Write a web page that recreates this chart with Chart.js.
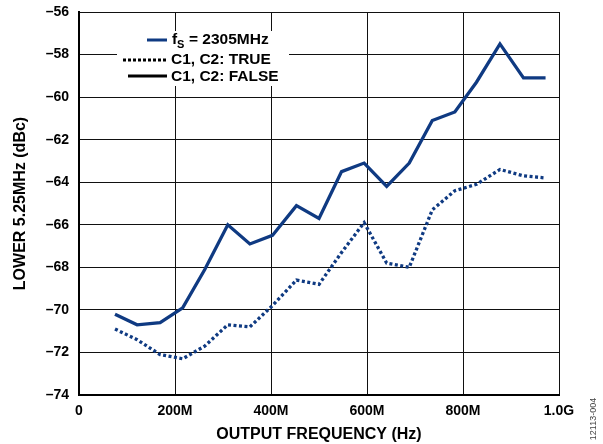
<!DOCTYPE html>
<html>
<head>
<meta charset="utf-8">
<script src="https://cdn.jsdelivr.net/npm/chart.js@4.4.1/dist/chart.umd.min.js"></script>
<style>
    body { margin: 0; background: #fff; }
    #wrap { width: 603px; height: 444px; }
</style>
</head>
<body>
<div id="wrap"><canvas id="distChart" width="603" height="444"></canvas></div>
<script>
// data srt
const freqMHz = [75, 121, 169, 216, 262, 310, 356, 403, 453, 500, 547, 594, 641, 688, 736, 783, 828, 877, 926, 972];
const falseValues = [-70.2, -70.7, -70.6, -69.9, -68.1, -66.0, -66.9, -66.5, -65.1, -65.7, -63.5, -63.1, -64.2, -63.1, -61.1, -60.7, -59.3, -57.5, -59.1, -59.1];
const trueValues = [-70.9, -71.4, -72.1, -72.3, -71.7, -70.7, -70.8, -69.8, -68.6, -68.8, -67.3, -65.9, -67.8, -68.0, -65.3, -64.4, -64.1, -63.4, -63.7, -63.8];
const xTickLabels = ['0', '200M', '400M', '600M', '800M', '1.0G'];
const legendLabels = ['2305MHz', 'C1, C2: TRUE', 'C1, C2: FALSE'];
// data end

const navy = '#0f3a82';
const family = '"Liberation Sans", Arial, sans-serif';
const legendFont = 'bold 15.5px ' + family;

// legend + figure id drawn on top
const legendPlugin = {
    id: 'legendBox',
    afterDraw(chart) {
        const c = chart.ctx;
        c.save();
        c.fillStyle = '#fff';
        c.fillRect(117, 31, 172, 55);

        c.lineWidth = 3;
        // fs entry
        c.strokeStyle = navy;
        c.beginPath(); c.moveTo(147, 40); c.lineTo(167, 40); c.stroke();
        // TRUE entry
        c.strokeStyle = '#000';
        c.setLineDash([3, 2]);
        c.beginPath(); c.moveTo(123, 60); c.lineTo(167, 60); c.stroke();
        c.setLineDash([]);
        // FALSE entry
        c.beginPath(); c.moveTo(128, 76); c.lineTo(167, 76); c.stroke();

        c.fillStyle = '#000';
        c.textBaseline = 'middle';
        c.font = legendFont;
        c.fillText('f', 172, 40);
        c.font = 'bold 11px ' + family;
        c.fillText('S', 177, 45);
        c.font = legendFont;
        c.fillText('= ' + legendLabels[0], 189, 40);
        c.fillText(legendLabels[1], 171, 60);
        c.fillText(legendLabels[2], 171, 77);

        // figure number
        c.translate(594, 419);
        c.rotate(-Math.PI / 2);
        c.textAlign = 'center';
        c.fillStyle = '#444';
        c.font = '9px ' + family;
        c.fillText('12113-004', 0, 0);
        c.restore();
    }
};

const config = {
    type: 'line',
    data: {
        labels: freqMHz,
        datasets: [
            {
                label: 'C1, C2: FALSE',
                data: freqMHz.map((f, i) => ({ x: f, y: falseValues[i] })),
                borderColor: navy,
                borderWidth: 3.3,
                pointRadius: 0,
                tension: 0,
            },
            {
                label: 'C1, C2: TRUE',
                data: freqMHz.map((f, i) => ({ x: f, y: trueValues[i] })),
                borderColor: navy,
                borderWidth: 3.3,
                borderDash: [3, 2.5],
                pointRadius: 0,
                tension: 0,
            },
        ],
    },
    options: {
        responsive: false,
        animation: false,
        layout: { padding: { top: 12, right: 44, left: 0, bottom: 0 } },
        plugins: {
            legend: { display: false },
            tooltip: { enabled: false },
        },
        scales: {
            x: {
                type: 'linear',
                min: 0,
                max: 1000,
                afterFit: (s) => { s.height = 49; },
                afterBuildTicks: (s) => { s.ticks = [0, 200, 400, 600, 800, 1000].map(v => ({ value: v })); },
                ticks: {
                    color: '#000',
                    font: { family: family, size: 14, weight: 'bold' },
                    padding: 8,
                    maxRotation: 0,
                    callback: (v, i) => xTickLabels[i],
                },
                grid: { color: '#111', lineWidth: 1, drawTicks: false },
                border: { color: '#000', width: 2 },
                title: {
                    display: true,
                    text: 'OUTPUT FREQUENCY (Hz)',
                    color: '#000',
                    font: { family: family, size: 16, weight: 'bold' },
                    padding: { top: 0, bottom: 0 },
                },
            },
            y: {
                min: -74,
                max: -56,
                afterFit: (s) => { s.width = 79; s.paddingTop = 0; s.paddingBottom = 0; },
                ticks: {
                    stepSize: 2,
                    color: '#000',
                    font: { family: family, size: 14, weight: 'bold' },
                    padding: 10,
                    callback: (v) => '\u2013' + Math.abs(v),
                },
                grid: { color: '#111', lineWidth: 1, drawTicks: false },
                border: { color: '#000', width: 2 },
                title: {
                    display: true,
                    text: 'LOWER 5.25MHz (dBc)',
                    color: '#000',
                    font: { family: family, size: 16, weight: 'bold' },
                    padding: { top: 11, bottom: 0 },
                },
            },
        },
    },
    plugins: [legendPlugin],
};

const chart = new Chart(document.getElementById('distChart').getContext('2d'), config);
</script>
</body>
</html>
